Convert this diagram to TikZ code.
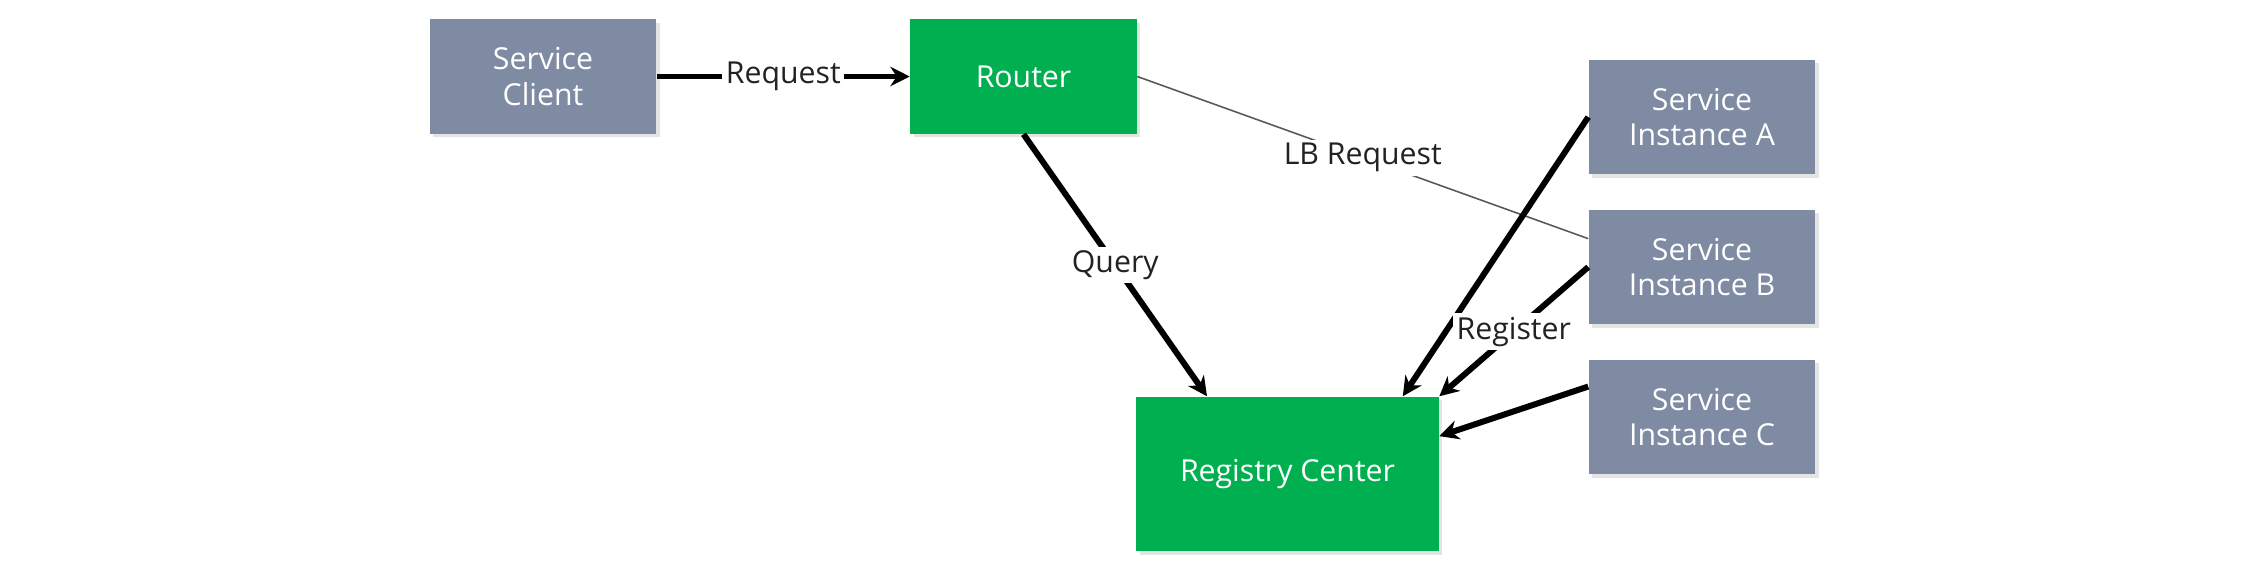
\documentclass[tikz,border=0pt]{standalone}
\usepackage{fontspec}
\setmainfont{Open Sans}
\usetikzlibrary{arrows.meta,shadows}
\definecolor{svcgray}{HTML}{7F8AA3}
\definecolor{regreen}{HTML}{00B050}
\definecolor{shadowgray}{HTML}{E4E4E4}
\definecolor{labelink}{HTML}{222222}
\tikzset{
  boxshadow/.style={drop shadow={shadow xshift=0.035cm, shadow yshift=-0.035cm, fill=shadowgray, opacity=1}},
  svcbox/.style={boxshadow, fill=svcgray, text=white, align=center, inner sep=0pt,
    minimum width=2.26cm, minimum height=1.14cm},
  greenbox/.style={svcbox, fill=regreen},
  flow/.style={line width=1.7pt, -{Stealth[length=5.5pt, width=5.5pt, inset=1.8pt]}},
  lblink/.style={line width=0.45pt, draw=black!65},
  flowlabel/.style={fill=white, text=labelink, inner sep=1pt}
}
\begin{document}
\begin{tikzpicture}[x=0.01cm, y=-0.01cm, font=\fontsize{8.6}{10}\selectfont]
  \useasboundingbox (0,0) rectangle (2246,569);

  % Marking the client and the router
  \node [svcbox] (client) at (543,76.5) {Service\\Client};
  \node [greenbox] (router) at (1023.5,76.5) {Router};

  % Marking the service instances
  \node [svcbox] (instA) at (1702,117) {Service\\Instance A};
  \node [svcbox] (instB) at (1702,267) {Service\\Instance B};
  \node [svcbox] (instC) at (1702,417) {Service\\Instance C};

  % Marking the registry center
  \node [greenbox, minimum width=3.02cm, minimum height=1.54cm] (registry) at (1287.5,474) {Registry Center};

  % Drawing line client router
  \draw [flow] (client.east) -- node [flowlabel] {Request} (router.west);

  % Drawing line router instance B
  \draw [lblink] (router.east) -- node [flowlabel] {LB Request} (instB.166);

  % Drawing line router registry
  \draw [flow] (router.south) -- node [flowlabel] {Query} (registry.136);

  % Drawing lines instances registry
  \draw [flow] (instA.west) -- (registry.34);
  \draw [flow] (instB.west) -- node [flowlabel] {Register} (registry.north east);
  \draw [flow] (instC.165) -- (registry.14);
\end{tikzpicture}
\end{document}
